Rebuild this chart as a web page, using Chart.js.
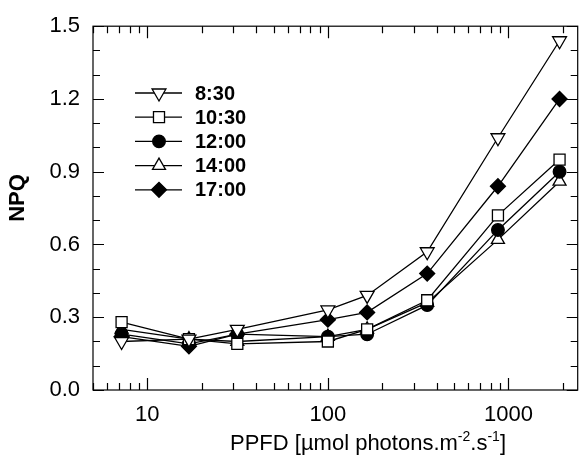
<!DOCTYPE html>
<html>
<head>
<meta charset="utf-8">
<script src="https://cdn.jsdelivr.net/npm/chart.js@4.4.1/dist/chart.umd.min.js"></script>
<style>
  html, body { margin: 0; padding: 0; background: #fff; }
  #wrap { width: 587px; height: 461px; }
</style>
</head>
<body>
<div id="wrap"><canvas id="npqChart" width="587" height="461"></canvas></div>
<script>
// PPFD steps and NPQ per time of day
const ppfd = [7.2, 17, 31.5, 100, 165, 355, 875, 1920];
const npq0830 = [0.20, 0.21, 0.25, 0.33, 0.39, 0.57, 1.04, 1.44];
const npq1030 = [0.28, 0.21, 0.19, 0.20, 0.25, 0.37, 0.72, 0.95];
const npq1200 = [0.23, 0.19, 0.23, 0.22, 0.23, 0.35, 0.66, 0.90];
const npq1400 = [0.25, 0.21, 0.20, 0.22, 0.25, 0.36, 0.62, 0.86];
const npq1700 = [0.22, 0.18, 0.23, 0.29, 0.32, 0.48, 0.84, 1.20];
const seriesNames = ['8:30', '10:30', '12:00', '14:00', '17:00'];

const xTickLabels = [10, 100, 1000];
const xMinorTicks = [5, 6, 7, 8, 9, 20, 30, 40, 50, 60, 70, 80, 90, 200, 300, 400, 500, 600, 700, 800, 900, 2000];
const yTickLabels = [0, 0.3, 0.6, 0.9, 1.2, 1.5];
const yMinorTicks = [0.1, 0.2, 0.4, 0.5, 0.7, 0.8, 1.0, 1.1, 1.3, 1.4];

const FONT = '"Liberation Sans", Arial, Helvetica, sans-serif';

function pts(vals) {
    return vals.map((v, i) => ({ x: ppfd[i], y: v }));
}

function mkSet(label, vals, style, fill, radius, rot) {
    return {
        label: label,
        data: pts(vals),
        borderColor: '#000',
        borderWidth: 1.3,
        pointStyle: style,
        pointRadius: radius,
        pointRotation: rot || 0,
        pointBackgroundColor: fill,
        pointBorderColor: '#000',
        pointBorderWidth: 1.3,
        tension: 0,
        fill: false
    };
}

// frame + inward ticks on all four sides
const frameTicks = {
    id: 'frameTicks',
    beforeDatasetsDraw(chart) {
        const { ctx, chartArea: a } = chart;
        const xs = chart.scales.x, ys = chart.scales.y;
        ctx.save();
        ctx.strokeStyle = '#000';
        ctx.lineWidth = 1.2;
        ctx.strokeRect(a.left, a.top, a.right - a.left, a.bottom - a.top);
        ctx.beginPath();
        const xt = (v, len) => {
            const px = Math.round(xs.getPixelForValue(v)) + 0.5;
            ctx.moveTo(px, a.bottom); ctx.lineTo(px, a.bottom - len);
            ctx.moveTo(px, a.top); ctx.lineTo(px, a.top + len);
        };
        const yt = (v, len) => {
            const py = Math.round(ys.getPixelForValue(v)) + 0.5;
            ctx.moveTo(a.left, py); ctx.lineTo(a.left + len, py);
            ctx.moveTo(a.right, py); ctx.lineTo(a.right - len, py);
        };
        xTickLabels.forEach(v => xt(v, 12));
        xMinorTicks.forEach(v => xt(v, 7));
        yTickLabels.forEach(v => yt(v, 11));
        yMinorTicks.forEach(v => yt(v, 7));
        ctx.stroke();
        ctx.restore();
    }
};

// legend with line + marker, and axis titles
const extras = {
    id: 'extras',
    afterDraw(chart) {
        const ctx = chart.ctx;
        ctx.save();
        chart.data.datasets.forEach((ds, i) => {
            const y = 93 + i * 24.2;
            ctx.strokeStyle = '#000';
            ctx.lineWidth = 1.3;
            ctx.beginPath();
            ctx.moveTo(135, y); ctx.lineTo(182, y);
            ctx.stroke();
            ctx.fillStyle = ds.pointBackgroundColor;
            ctx.strokeStyle = '#000';
            ctx.lineWidth = 1.3;
            Chart.helpers.drawPoint(ctx, {
                pointStyle: ds.pointStyle,
                rotation: ds.pointRotation,
                radius: ds.pointRadius,
                borderWidth: 1.3
            }, 159, y);
            ctx.fillStyle = '#000';
            ctx.font = 'bold 20px ' + FONT;
            ctx.textBaseline = 'middle';
            ctx.textAlign = 'left';
            ctx.fillText(ds.label, 195, y + 1);
        });

        // y title
        ctx.save();
        ctx.translate(18, 198);
        ctx.rotate(-Math.PI / 2);
        ctx.font = 'bold 22px ' + FONT;
        ctx.textAlign = 'center';
        ctx.textBaseline = 'middle';
        ctx.fillStyle = '#000';
        ctx.fillText('NPQ', 0, 0);
        ctx.restore();

        // x title with superscripts
        const parts = [
            ['PPFD [\u00b5mol photons.m', 0],
            ['-2', 1],
            ['.s', 0],
            ['-1', 1],
            [']', 0]
        ];
        const big = '22px ' + FONT, small = '14px ' + FONT;
        let w = 0;
        parts.forEach(p => { ctx.font = p[1] ? small : big; w += ctx.measureText(p[0]).width; });
        let x = 368 - w / 2;
        const base = 450;
        ctx.textAlign = 'left';
        ctx.textBaseline = 'alphabetic';
        parts.forEach(p => {
            ctx.font = p[1] ? small : big;
            ctx.fillText(p[0], x, p[1] ? base - 9 : base);
            x += ctx.measureText(p[0]).width;
        });
        ctx.restore();
    }
};

new Chart(document.getElementById('npqChart'), {
    type: 'line',
    data: {
        datasets: [
            mkSet(seriesNames[0], npq0830, 'triangle', '#fff', 8, 180),
            mkSet(seriesNames[1], npq1030, 'rect', '#fff', 7.8),
            mkSet(seriesNames[2], npq1200, 'circle', '#000', 6.3),
            mkSet(seriesNames[3], npq1400, 'triangle', '#fff', 7.5),
            mkSet(seriesNames[4], npq1700, 'rectRot', '#000', 7.5)
        ]
    },
    options: {
        responsive: false,
        animation: false,
        devicePixelRatio: 1,
        layout: { padding: { top: 20, right: 1, left: 0, bottom: 0 } },
        plugins: { legend: { display: false }, tooltip: { enabled: false } },
        scales: {
            x: {
                type: 'logarithmic',
                min: 5,
                max: 2420,
                grid: { display: false, drawTicks: false },
                border: { display: false },
                afterBuildTicks: s => { s.ticks = xTickLabels.map(v => ({ value: v })); },
                afterFit: s => { s.height = 71; },
                ticks: {
                    color: '#000',
                    padding: 12,
                    maxRotation: 0,
                    font: { family: FONT, size: 22 },
                    callback: v => String(v)
                }
            },
            y: {
                min: 0,
                max: 1.5,
                grid: { display: false, drawTicks: false },
                border: { display: false },
                afterBuildTicks: s => { s.ticks = yTickLabels.map(v => ({ value: v })); },
                afterFit: s => { s.width = 93; },
                ticks: {
                    color: '#000',
                    padding: 13,
                    font: { family: FONT, size: 22 },
                    callback: v => v.toFixed(1)
                }
            }
        }
    },
    plugins: [frameTicks, extras]
});
</script>
</body>
</html>
